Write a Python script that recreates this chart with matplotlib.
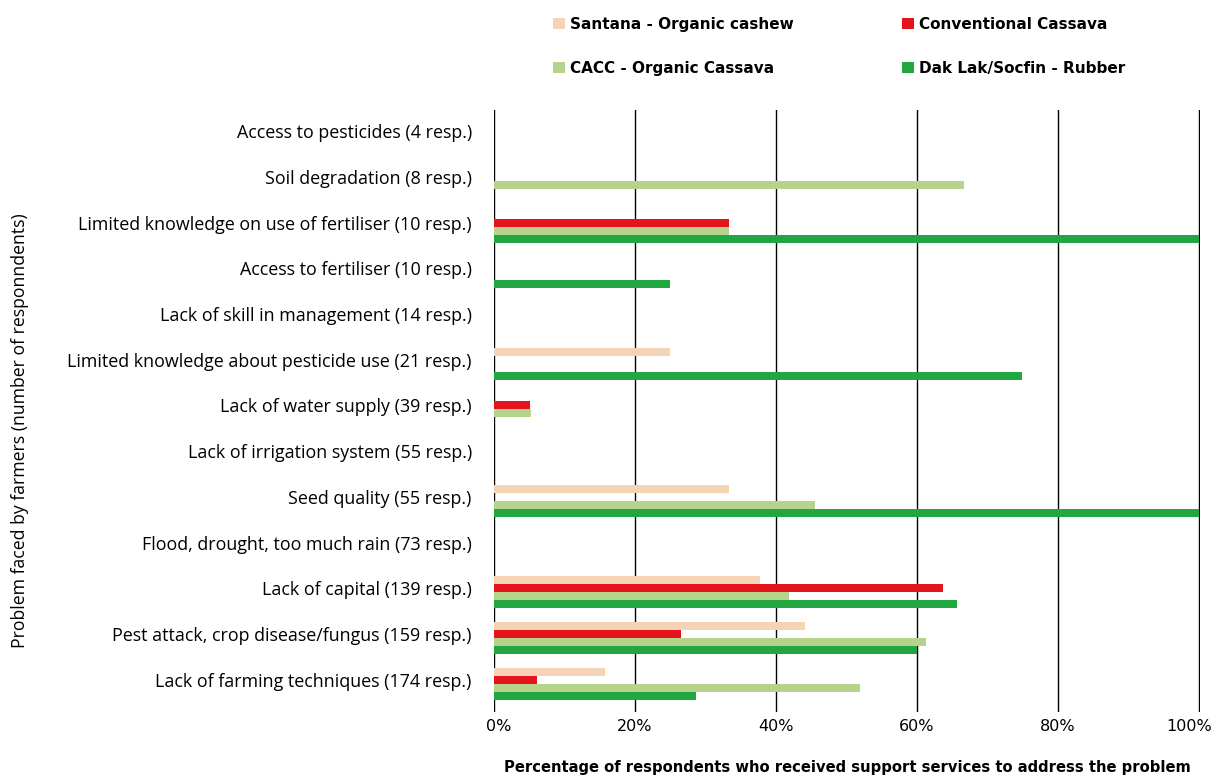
import matplotlib
matplotlib.use("Agg")
import matplotlib.pyplot as plt
import matplotlib.transforms as mtransforms
import numpy as np

categories = [
    "Access to pesticides (4 resp.)",
    "Soil degradation (8 resp.)",
    "Limited knowledge on use of fertiliser (10 resp.)",
    "Access to fertiliser (10 resp.)",
    "Lack of skill in management (14 resp.)",
    "Limited knowledge about pesticide use (21 resp.)",
    "Lack of water supply (39 resp.)",
    "Lack of irrigation system (55 resp.)",
    "Seed quality (55 resp.)",
    "Flood, drought, too much rain (73 resp.)",
    "Lack of capital (139 resp.)",
    "Pest attack, crop disease/fungus (159 resp.)",
    "Lack of farming techniques (174 resp.)",
]
santana = [0, 0, 0, 0, 0, 25, 0, 0, 33.3, 0, 37.8, 44.1, 15.7]
conventional = [0, 0, 33.3, 0, 0, 0, 5.1, 0, 0, 0, 63.7, 26.5, 6.1]
cacc = [0, 66.7, 33.3, 0, 0, 0, 5.3, 0, 45.5, 0, 41.9, 61.3, 52.0]
daklak = [0, 0, 100, 25, 0, 75, 0, 0, 100, 0, 65.7, 60.0, 28.7]

series_names = ["Santana - Organic cashew", "Conventional Cassava",
                "CACC - Organic Cassava", "Dak Lak/Socfin - Rubber"]
colors = ["#F7D3B6", "#E3141B", "#B5D38B", "#22A642"]
xticks = [0, 20, 40, 60, 80, 100]
xticklabels = ["0%", "20%", "40%", "60%", "80%", "100%"]

fig = plt.figure(figsize=(12.16, 7.8), dpi=100)
ax = fig.add_axes([494/1216, 1-712/780, (1200-494)/1216, (712-110)/780])

y = np.arange(len(categories))
h = 0.175
offsets = [-1.5*h, -0.5*h, 0.5*h, 1.5*h]
handles = []
for vals, off, col, name in zip([santana, conventional, cacc, daklak], offsets, colors, series_names):
    b = ax.barh(y + off, vals, height=h, color=col, label=name, zorder=3, linewidth=0)
    handles.append(b)

ax.set_xlim(0, 100.2)
ax.set_ylim(12.62, -0.55)
ax.set_xticks(xticks)
ax.set_xticklabels(xticklabels, fontsize=11.5, family="DejaVu Sans")
ax.set_yticks(y)
ax.set_yticklabels(categories, fontsize=12.9, family="Open Sans")
ax.tick_params(axis="y", length=0, pad=16)
ax.tick_params(axis="x", length=0, pad=5)
up = mtransforms.ScaledTranslation(0, 4/100, fig.dpi_scale_trans)
for lab in ax.get_yticklabels():
    lab.set_transform(lab.get_transform() + up)
xl = ax.get_xticklabels()
xl[0].set_transform(xl[0].get_transform() + mtransforms.ScaledTranslation(5/100, 0, fig.dpi_scale_trans))
xl[-1].set_ha("right")
xl[-1].set_transform(xl[-1].get_transform() + mtransforms.ScaledTranslation(13/100, 0, fig.dpi_scale_trans))
for xv in xticks:
    ax.axvline(xv, color="black", lw=1.0, zorder=2)
for s in ax.spines.values():
    s.set_visible(False)

ax.set_xlabel("Percentage of respondents who received support services to address the problem",
              fontsize=10.6, fontweight="semibold", family="DejaVu Sans", labelpad=19)
fig.text(20/1216, 1-431/780, "Problem faced by farmers (number of responndents)",
         rotation=90, ha="center", va="center", fontsize=12.7, family="Open Sans")

order = [0, 2, 1, 3]
leg = fig.legend([handles[i] for i in order], [series_names[i] for i in order],
                 ncol=2, loc="upper left", bbox_to_anchor=(539/1216, 1-3/780),
                 frameon=False, handlelength=0.8, handleheight=0.8, handletextpad=0.3,
                 columnspacing=7.1, labelspacing=1.9,
                 prop={"family": "DejaVu Sans", "size": 11, "weight": "semibold"})

fig.savefig("out.png", dpi=100)
